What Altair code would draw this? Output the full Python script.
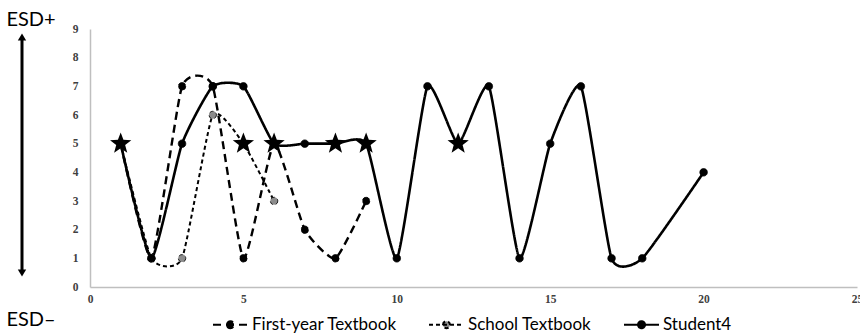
import altair as alt
import pandas as pd

# ---------------- data ----------------
series_names = ["First-year Textbook", "School Textbook", "Student4"]

first_x = [1, 2, 3, 4, 5, 6, 7, 8, 9]
first_y = [5, 1, 7, 7, 1, 5, 2, 1, 3]

school_x = [1, 2, 3, 4, 5, 6]
school_y = [5, 1, 1, 6, 5, 3]

student_x = [1, 2, 3, 4, 5, 6, 7, 8, 9, 10, 11, 12, 13, 14, 15, 16, 17, 18, 20]
student_y = [5, 1, 5, 7, 7, 5, 5, 5, 5, 1, 7, 5, 7, 1, 5, 7, 1, 1, 4]

star_x = [1, 5, 6, 8, 9, 12]
star_y = [5, 5, 5, 5, 5, 5]

x_ticks = [0, 5, 10, 15, 20, 25]
y_ticks = [0, 1, 2, 3, 4, 5, 6, 7, 8, 9]

rows = []
for name, xs, ys in zip(series_names, [first_x, school_x, student_x], [first_y, school_y, student_y]):
    for xv, yv in zip(xs, ys):
        rows.append({"series": name, "x": xv, "y": yv})
for xv, yv in zip(star_x, star_y):
    rows.append({"series": "star", "x": xv, "y": yv})
df = pd.DataFrame(rows)

# ---------------- encodings ----------------
X = alt.X("x:Q", title=None,
          scale=alt.Scale(domain=[0, 25], nice=False, zero=True),
          axis=alt.Axis(values=x_ticks, grid=False, ticks=False, domainColor="#bfbfbf",
                        domainWidth=1.5, labelFont="Liberation Serif", labelFontWeight="bold",
                        labelFontSize=11.5, labelColor="#404040", labelPadding=6,
                        labelFlush=False, labelOverlap=False))
Y = alt.Y("y:Q", title=None,
          scale=alt.Scale(domain=[0, 9], nice=False),
          axis=alt.Axis(values=y_ticks, grid=False, ticks=False, domainColor="#bfbfbf",
                        domainWidth=1.5, labelFont="Liberation Serif", labelFontWeight="bold",
                        labelFontSize=11.5, labelColor="#404040", labelPadding=12,
                        labelOverlap=False))

dash_scale = alt.Scale(domain=series_names, range=[[8, 5], [4, 3], [1, 0]])
fill_scale = alt.Scale(domain=series_names, range=["black", "#8c8c8c", "black"])

legend_symbol = "M-1,0L1,0M-0.2,0A0.2,0.2,0,1,1,0.2,0A0.2,0.2,0,1,1,-0.2,0Z"
legend_def = alt.Legend(title=None, orient="none", legendX=122, legendY=277,
                        direction="horizontal", columns=3, symbolType=legend_symbol,
                        symbolSize=1225, symbolStrokeWidth=2, symbolStrokeColor="black",
                        labelFont="Lato", labelFontSize=17, labelColor="black",
                        labelOffset=3, columnPadding=28, padding=0)

star_path = ("M0,-1L0.247,-0.34L0.951,-0.309L0.399,0.13L0.588,0.809L0,0.42"
             "L-0.588,0.809L-0.399,0.13L-0.951,-0.309L-0.247,-0.34Z")

base = alt.Chart(df)

def series_line(name, dash, width):
    return base.transform_filter(alt.datum.series == name).mark_line(
        interpolate="cardinal", tension=0.5, color="black", strokeWidth=width, strokeDash=dash
    ).encode(x=X, y=Y)

line_first = series_line("First-year Textbook", [8, 5], 2.4)
line_school = series_line("School Textbook", [4, 3], 2.0)
line_student = series_line("Student4", [1, 0], 2.6)

points = base.transform_filter(alt.datum.series != "star").mark_point(
    filled=True, size=56, stroke="black", strokeWidth=0.8, opacity=1
).encode(
    x=X, y=Y,
    fill=alt.Fill("series:N", scale=fill_scale, legend=legend_def),
    strokeDash=alt.StrokeDash("series:N", scale=dash_scale, legend=legend_def),
)

star_layer = base.transform_filter(alt.datum.series == "star").mark_point(
    shape=star_path, filled=True, size=500, color="black", opacity=1
).encode(x=X, y=Y)

single = base.transform_filter((alt.datum.series == "star") & (alt.datum.x == 1))
esd_plus = single.mark_text(font="Lato", fontSize=20, color="black").encode(
    x=alt.value(-59), y=alt.value(-9), text=alt.value("ESD+"))
esd_minus = single.mark_text(font="Lato", fontSize=20, color="black").encode(
    x=alt.value(-59), y=alt.value(291), text=alt.value("ESD\u2013"))
arrow_line = single.mark_rule(color="black", strokeWidth=3).encode(
    x=alt.value(-68), y=alt.value(8), y2=alt.value(244))
arrow_top = single.mark_point(shape="triangle-up", filled=True, size=70, color="black", opacity=1).encode(
    x=alt.value(-68), y=alt.value(8))
arrow_bot = single.mark_point(shape="triangle-down", filled=True, size=70, color="black", opacity=1).encode(
    x=alt.value(-68), y=alt.value(244))

chart = alt.layer(
    line_first, line_school, line_student, points, star_layer,
    esd_plus, esd_minus, arrow_line, arrow_top, arrow_bot
).properties(
    width=767, height=258,
    autosize=alt.AutoSizeParams(type="none"),
    padding={"left": 90, "top": 29, "right": 3, "bottom": 47},
    background="white",
).configure_view(stroke=None)

chart.save("out.html", embed_options={"renderer": "svg", "actions": False})
